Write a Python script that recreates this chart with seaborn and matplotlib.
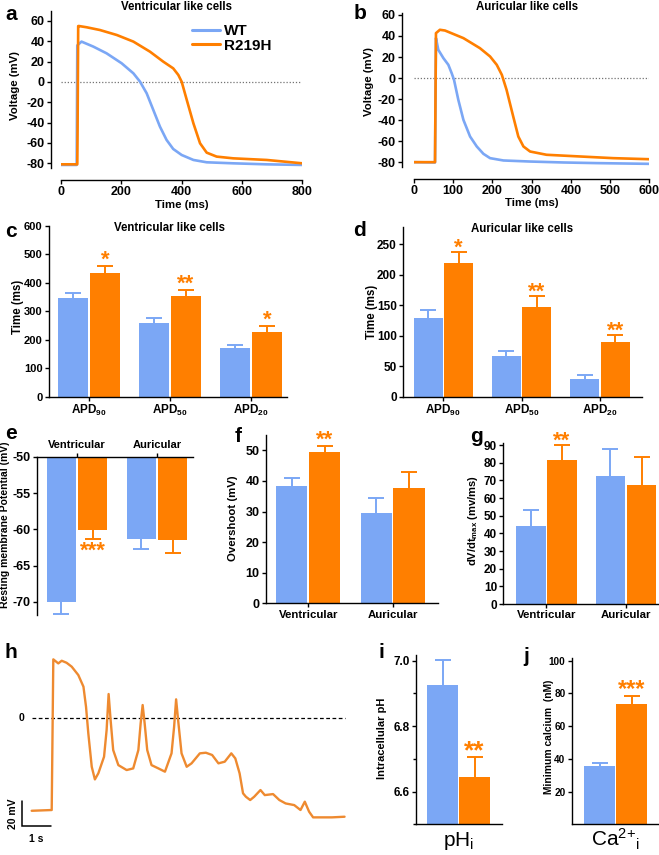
import numpy as np
import pandas as pd
import matplotlib
matplotlib.use('Agg')
import matplotlib.pyplot as plt
from matplotlib.ticker import MultipleLocator
import seaborn as sns

sns.set_style('ticks')
plt.rcParams['font.family'] = ['Liberation Sans', 'DejaVu Sans']
plt.rcParams.update({
    'font.weight': 'bold', 'axes.labelweight': 'bold',
    'mathtext.default': 'regular', 'axes.unicode_minus': False,
    'axes.linewidth': 1.0, 'axes.edgecolor': 'black',
    'xtick.color': 'black', 'ytick.color': 'black',
    'text.color': 'black', 'axes.labelcolor': 'black',
    'xtick.major.width': 1.0, 'ytick.major.width': 1.0,
    'xtick.major.size': 3, 'ytick.major.size': 3,
    'xtick.major.pad': 1.5, 'ytick.major.pad': 1.5,
    'xtick.direction': 'out', 'ytick.direction': 'out',
})

BLUE = '#7BA7F5'
ORANGE = '#FF7F00'
TRACE = '#EE8A30'
genotypes = ['WT', 'R219H']

# ---------------- data ----------------
# a: ventricular-like action potentials (ms, mV)
a_wt_time = [0, 52, 54, 68, 107, 151, 201, 240, 262, 284, 306, 328, 350, 372, 400, 439, 483, 571, 682, 800]
a_wt_volt = [-81.6, -81.6, 36, 39.7, 34.8, 28.2, 18.4, 8.5, 0.3, -11.1, -27.5, -43.9, -57, -65.9, -71.8, -76.7, -79, -80, -81, -81.6]
a_r_time = [0, 54, 55, 57, 60, 85, 129, 185, 240, 295, 339, 372, 389, 400, 417, 439, 461, 483, 516, 571, 682, 800]
a_r_volt = [-81, -81, -45, 55, 55, 53.8, 51.1, 46.2, 39.7, 29.8, 20, 13.4, 6.9, 0.3, -17.7, -40.7, -60.3, -69.5, -73.4, -75.1, -76.7, -80]

# b: auricular-like action potentials (ms, mV)
b_wt_time = [0, 53.6, 56, 62, 75, 87.6, 96, 102, 113, 126, 143, 160, 177, 194, 228, 296, 381, 466, 600]
b_wt_volt = [-79.7, -80, 37.9, 26.8, 18.9, 12.6, 4.7, -1.6, -20.6, -39.6, -55.4, -64.8, -71.8, -75.9, -78.1, -79.1, -80, -80.6, -81.3]
b_r_time = [0, 53.6, 56, 66, 79, 126, 168, 194, 211, 224, 236, 253, 266, 279, 296, 338, 423, 508, 600]
b_r_volt = [-79.7, -79.7, 42.6, 45.8, 45.1, 37.9, 28.4, 20.5, 12.6, 3.1, -11.1, -36.4, -55.4, -64.8, -69.6, -72.7, -74.3, -75.9, -76.9]

# c, d: APD (ms)
apd_cats = ['APD$_{90}$', 'APD$_{50}$', 'APD$_{20}$']
c_wt = [347, 260, 171]
c_wt_sem = [18, 17, 12]
c_r = [436, 354, 228]
c_r_sem = [23, 21, 19]
c_stars = ['*', '**', '*']
d_wt = [129, 66, 29]
d_wt_sem = [14, 9, 6]
d_r = [219, 148, 89]
d_r_sem = [18, 17, 13]
d_stars = ['*', '**', '**']

# e, f, g
cell_cats = ['Ventricular', 'Auricular']
e_wt = [-70.0, -61.3]
e_wt_sem = [1.7, 1.4]
e_r = [-60.1, -61.5]
e_r_sem = [1.3, 1.8]
e_stars = ['***', '']
f_wt = [38.3, 29.5]
f_wt_sem = [2.7, 5.0]
f_r = [49.6, 37.8]
f_r_sem = [1.7, 5.0]
f_stars = ['**', '']
g_wt = [43.9, 72.2]
g_wt_sem = [9.4, 15.8]
g_r = [81.3, 67.4]
g_r_sem = [8.5, 15.6]
g_stars = ['**', '']

# h: R219H trace (s, mV)
h_time = [0, 0.70, 0.756, 0.93, 1.05, 1.22, 1.40, 1.63, 1.81, 1.90, 1.98, 2.10, 2.21, 2.33, 2.53, 2.62, 2.69, 2.76, 2.85, 3.03,
          3.32, 3.55, 3.73, 3.81, 3.88, 3.95, 4.04, 4.19, 4.43, 4.66, 4.89, 4.98, 5.05, 5.12, 5.24, 5.42, 5.59, 5.88, 6.09, 6.31,
          6.53, 6.75, 6.98, 7.12, 7.27, 7.39, 7.49, 7.64, 7.78, 8.00, 8.15, 8.44, 8.66, 8.88, 9.18, 9.40, 9.55, 9.70, 9.84, 10.06,
          10.50, 10.94]
h_volt = [-73.3, -72.7, 46.4, 43.2, 45.3, 43.7, 40.6, 34.0, 24.8, 8.9, -12.1, -38.5, -48.5, -43.7, -30.6, -9.5, 19.0, -1.6, -25.3, -37.2,
          -41.1, -39.8, -25.3, -4.2, 10.3, -4.2, -25.3, -37.2, -39.8, -42.4, -27.9, -6.9, 14.8, -1.6, -27.9, -38.5, -35.8, -27.9, -27.4, -29.2,
          -35.8, -34.5, -27.9, -31.9, -43.7, -59.5, -62.2, -64.8, -62.2, -56.9, -60.9, -60.1, -64.8, -67.5, -68.8, -72.7, -66.1, -74.0, -78.5, -78.5,
          -78.5, -78.0]

# i, j
i_cats = ['pH$_{i}$']
i_wt = [6.926]
i_wt_sem = [0.075]
i_r = [6.646]
i_r_sem = [0.059]
i_stars = ['**']
j_cats = ['Ca$^{2{+}}{}_{i}$']
j_wt = [35.7]
j_wt_sem = [1.6]
j_r = [73.5]
j_r_sem = [4.9]
j_stars = ['***']

# ---------------- figure ----------------
W, H = 659, 855
fig = plt.figure(figsize=(W / 100, H / 100), dpi=100)
fig.patch.set_facecolor('white')


def add_ax(l, t, r, b):
    return fig.add_axes([l / W, 1 - b / H, (r - l) / W, (b - t) / H])


def ftext(x, y, s, **kw):
    kw.setdefault('ha', 'center')
    kw.setdefault('va', 'center')
    fig.text(x / W, 1 - y / H, s, **kw)


def trace_panel(ax, t_wt, v_wt, t_r, v_r, legend):
    df = pd.concat([
        pd.DataFrame({'time': t_wt, 'voltage': v_wt, 'genotype': 'WT'}),
        pd.DataFrame({'time': t_r, 'voltage': v_r, 'genotype': 'R219H'}),
    ], ignore_index=True)
    ax.axhline(0, ls=(0, (1, 1.5)), color='0.45', lw=0.9, zorder=1)
    sns.lineplot(data=df, x='time', y='voltage', hue='genotype', hue_order=genotypes,
                 palette=[BLUE, ORANGE], estimator=None, sort=False, lw=1.9,
                 ax=ax, legend=legend)
    sns.despine(ax=ax)
    ax.set_xlabel('')
    ax.set_ylabel('')


def bar_panel(ax, cats, wt, wt_sem, r, r_sem, stars, down=False, star_fs=16, d_px=13):
    n = len(cats)
    df = pd.DataFrame({'cat': list(cats) * 2,
                       'genotype': ['WT'] * n + ['R219H'] * n,
                       'value': list(wt) + list(r)})
    sns.barplot(data=df, x='cat', y='value', hue='genotype', order=cats, hue_order=genotypes,
                palette=[BLUE, ORANGE], errorbar=None, width=0.78, gap=0.05, saturation=1,
                linewidth=0, legend=False, ax=ax)
    conts = list(ax.containers[:2])
    fs_px = star_fs * 100 / 72
    for k, (cont, vals, sems, col) in enumerate(zip(conts, [wt, r], [wt_sem, r_sem], [BLUE, ORANGE])):
        for idx, (bar, v, s) in enumerate(zip(cont, vals, sems)):
            xc = bar.get_x() + bar.get_width() / 2
            end = v - s if down else v + s
            ax.plot([xc, xc], [v, end], color=col, lw=1.4, clip_on=False, solid_capstyle='butt')
            ax.plot([xc], [end], marker='_', ms=12, mew=1.4, color=col, clip_on=False)
            if k == 1 and stars[idx]:
                if down:
                    off = (-d_px - 0.575 * fs_px) * 0.72
                else:
                    off = (d_px - 0.575 * fs_px) * 0.72
                ax.annotate(stars[idx], xy=(xc, end), xytext=(0, off), textcoords='offset points',
                            ha='center', va='baseline', fontsize=star_fs, fontweight='bold',
                            color=ORANGE, annotation_clip=False)
    ax.set_xlabel('')
    ax.set_ylabel('')
    sns.despine(ax=ax)


# ---- a ----
ax = add_ax(61, 10.8, 302.3, 168.4)
trace_panel(ax, a_wt_time, a_wt_volt, a_r_time, a_r_volt, legend=True)
ax.set_xlim(0, 800)
ax.set_ylim(-85, 70)
ax.set_xticks(range(0, 801, 200))
ax.set_yticks(range(-80, 61, 20))
ax.spines['left'].set_position(('outward', 7.2))
ax.spines['bottom'].set_position(('outward', 8.4))
ax.tick_params(labelsize=9)
handles, labels = ax.get_legend_handles_labels()
leg = ax.legend(handles, labels, loc='upper left', bbox_to_anchor=(192 / W, 1 - 24 / H),
                bbox_transform=fig.transFigure, frameon=False, borderpad=0, borderaxespad=0,
                handlelength=1.8, handletextpad=0.3, labelspacing=0.05,
                prop={'size': 11, 'weight': 'bold'})
for hl in leg.get_lines():
    hl.set_linewidth(2.2)
ftext(176.7, 6.5, 'Ventricular like cells', fontsize=8.3, fontweight='bold')
ftext(15.5, 85, 'Voltage (mV)', fontsize=8.2, fontweight='bold', rotation=90)
ftext(181.7, 205, 'Time (ms)', fontsize=8.2, fontweight='bold')

# ---- b ----
ax = add_ax(414, 12.7, 649.3, 166.7)
trace_panel(ax, b_wt_time, b_wt_volt, b_r_time, b_r_volt, legend=False)
ax.set_xlim(0, 600)
ax.set_ylim(-84, 62)
ax.set_xticks(range(0, 601, 100))
ax.set_yticks(range(-80, 61, 20))
ax.spines['left'].set_position(('outward', 8.9))
ax.spines['bottom'].set_position(('outward', 8.9))
ax.tick_params(labelsize=9)
ftext(526.7, 6.5, 'Auricular like cells', fontsize=8.3, fontweight='bold')
ftext(369, 81.7, 'Voltage (mV)', fontsize=8.2, fontweight='bold', rotation=90)
ftext(531.7, 203.3, 'Time (ms)', fontsize=8.2, fontweight='bold')

# ---- c ----
ax = add_ax(49, 226, 287, 396.7)
bar_panel(ax, apd_cats, c_wt, c_wt_sem, c_r, c_r_sem, c_stars)
ax.set_xlim(-0.494, 2.444)
ax.set_ylim(0, 600)
ax.set_yticks(range(0, 601, 100))
ax.tick_params(axis='y', labelsize=8)
ax.tick_params(axis='x', labelsize=8.5)
ftext(169.3, 228, 'Ventricular like cells', fontsize=8.3, fontweight='bold')
ftext(18.3, 306.7, 'Time (ms)', fontsize=8.3, fontweight='bold', rotation=90)

# ---- d ----
ax = add_ax(403, 226.7, 641.7, 396.7)
bar_panel(ax, apd_cats, d_wt, d_wt_sem, d_r, d_r_sem, d_stars, d_px=11)
ax.set_xlim(-0.515, 2.534)
ax.set_ylim(0, 279)
ax.set_yticks(range(0, 251, 50))
ax.tick_params(axis='y', labelsize=8.5)
ax.tick_params(axis='x', labelsize=8.5)
ftext(521.7, 229, 'Auricular like cells', fontsize=8.3, fontweight='bold')
ftext(371.7, 311.7, 'Time (ms)', fontsize=8.3, fontweight='bold', rotation=90)

# ---- e ----
ax = add_ax(36.7, 456.7, 192.5, 615)
bar_panel(ax, cell_cats, e_wt, e_wt_sem, e_r, e_r_sem, e_stars, down=True, d_px=4)
ax.set_xlim(-0.505, 1.445)
ax.set_ylim(-71.8, -50)
ax.set_yticks(range(-70, -49, 5))
ax.spines['top'].set_visible(True)
ax.spines['bottom'].set_visible(False)
ax.xaxis.tick_top()
ax.tick_params(axis='y', labelsize=9)
ax.tick_params(axis='x', labelsize=8)
ftext(5, 525, 'Resting membrane Potential (mV)', fontsize=7.5, fontweight='bold', rotation=90)

# ---- f ----
ax = add_ax(266, 435, 438, 603.3)
bar_panel(ax, cell_cats, f_wt, f_wt_sem, f_r, f_r_sem, f_stars)
ax.set_xlim(-0.50, 1.537)
ax.set_ylim(0, 55)
ax.set_yticks(range(0, 51, 10))
ax.tick_params(axis='y', labelsize=9)
ax.tick_params(axis='x', labelsize=8.2)
ftext(233.3, 518, 'Overshoot (mV)', fontsize=8.2, fontweight='bold', rotation=90)

# ---- g ----
ax = add_ax(503.3, 443.3, 659, 604)
bar_panel(ax, cell_cats, g_wt, g_wt_sem, g_r, g_r_sem, g_stars, d_px=11)
ax.set_xlim(-0.543, 1.415)
ax.set_ylim(0, 91)
ax.set_yticks(range(0, 91, 10))
ax.tick_params(axis='y', labelsize=8.5)
ax.tick_params(axis='x', labelsize=8.2)
ftext(473.3, 521, 'dV/dt$_{max}$ (mv/ms)', fontsize=8, fontweight='bold', rotation=90)

# ---- h ----
ax = add_ax(0, 640, 360, 850)
ax.set_xlim(-1.108, 11.48)
ax.set_ylim(-104.3, 61.7)
ax.axis('off')
ax.hlines(0, 0, 10.95, colors='black', linestyles=(0, (3, 2)), lw=0.9)
sns.lineplot(x=h_time, y=h_volt, estimator=None, sort=False, color=TRACE, lw=1.7, ax=ax)
ax.plot([-0.33, -0.33, 0.67], [-65.4, -85.4, -85.4], color='black', lw=1.1, solid_joinstyle='miter')
ax.text(-0.26, 0, '0', ha='right', va='center', fontsize=7.5, fontweight='bold')
ax.text(-0.66, -75.4, '20 mV', ha='center', va='center', rotation=90, fontsize=7.5, fontweight='bold')
ax.text(0.14, -95.7, '1 s', ha='center', va='center', fontsize=7.5, fontweight='bold')

# ---- i ----
ax = add_ax(416, 655.1, 502, 824.45)
bar_panel(ax, i_cats, i_wt, i_wt_sem, i_r, i_r_sem, i_stars, star_fs=19, d_px=14)
ax.set_xlim(-0.52, 0.528)
ax.set_ylim(6.5, 7.017)
ax.set_yticks([6.6, 6.8, 7.0])
ax.set_yticklabels(['6.6', '6.8', '7.0'])
ax.yaxis.set_minor_locator(MultipleLocator(0.1))
ax.tick_params(axis='y', which='minor', length=2, width=1)
ax.tick_params(axis='y', labelsize=8.5)
ax.tick_params(axis='x', length=0, pad=4)
for lab in ax.get_xticklabels():
    lab.set_fontsize(15)
    lab.set_fontweight('normal')
ftext(381.7, 738, 'Intracellular pH', fontsize=8, fontweight='bold', rotation=90)

# ---- j ----
ax = add_ax(571.7, 658.2, 658, 824.45)
bar_panel(ax, j_cats, j_wt, j_wt_sem, j_r, j_r_sem, j_stars, star_fs=17, d_px=14)
ax.set_xlim(-0.534, 0.518)
ax.set_ylim(0, 101.5)
ax.set_yticks(range(20, 101, 20))
ax.tick_params(axis='y', labelsize=7.2)
ax.tick_params(axis='x', length=0, pad=2)
for lab in ax.get_xticklabels():
    lab.set_fontsize(15)
    lab.set_fontweight('normal')
ftext(549.5, 737, 'Minimum calcium  (nM)', fontsize=7.4, fontweight='bold', rotation=90)

# ---- panel letters ----
for letter, x, y in [('a', 5, 14), ('b', 353.3, 13.3), ('c', 5, 231.7), ('d', 353.3, 230),
                     ('e', 5, 433), ('f', 235, 437), ('g', 470, 436), ('h', 5, 653),
                     ('i', 378, 653), ('j', 523, 657)]:
    ftext(x, y, letter, fontsize=15, fontweight='bold', ha='left')

fig.savefig('out.png', dpi=100, facecolor='white')
